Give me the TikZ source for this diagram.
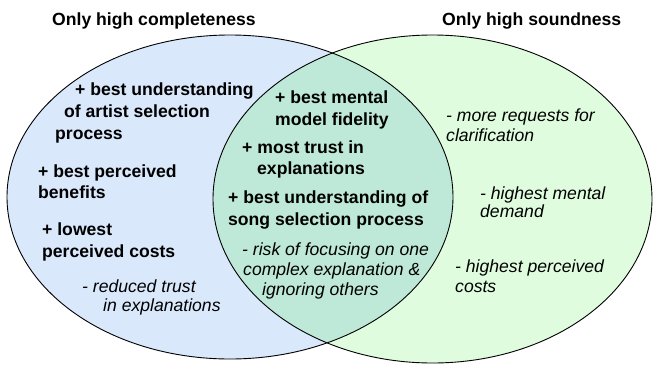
\documentclass[tikz,border=0pt]{standalone}
\usepackage{fontspec}
\setmainfont{Liberation Sans}
\usetikzlibrary{positioning}
\definecolor{complblue}{RGB}{218,232,252}
\definecolor{soundgreen}{RGB}{223,253,222}
\definecolor{bothteal}{RGB}{190,232,216}

\tikzset{
  gain/.style={anchor=base west, inner sep=0pt, font=\fontsize{17.6}{21}\selectfont\bfseries},
  loss/.style={anchor=base west, inner sep=0pt, font=\fontsize{17.6}{21}\selectfont\itshape},
  ring/.style={draw=black, line width=0.9pt}
}

\begin{document}
\begin{tikzpicture}[x=1pt, y=-1pt]
  \useasboundingbox (0,0) rectangle (653,364);
  % the two sets
  \fill[complblue] (230,197) ellipse [x radius=223pt, y radius=162pt];
  \fill[soundgreen] (432.5,199) ellipse [x radius=219.5pt, y radius=164pt];
  \begin{scope}
    \clip (230,197) ellipse [x radius=223pt, y radius=162pt];
    \fill[bothteal] (432.5,199) ellipse [x radius=219.5pt, y radius=164pt];
  \end{scope}
  \draw[ring] (230,197) ellipse [x radius=223pt, y radius=162pt];
  \draw[ring] (432.5,199) ellipse [x radius=219.5pt, y radius=164pt];

  % headings
  \node[gain] (titleC) at (52,25) {Only high completeness};
  \node[gain] (titleS) at (442,25) {Only high soundness};

  % only completeness
  \node[gain] (artist1) at (75,95) {+ best understanding};
  \node[gain] (artist2) at (64,117) {of artist selection};
  \node[gain] (artist3) at (55,139) {process};
  \node[gain] (benef1) at (38,177) {+ best perceived};
  \node[gain] (benef2) at (38,198) {benefits};
  \node[gain] (cost1) at (42,235) {+ lowest};
  \node[gain] (cost2) at (42,257) {perceived costs};
  \node[loss] (trust1) at (82,292) {- reduced trust};
  \node[loss] (trust2) at (103,311) {in explanations};

  % both
  \node[gain] (fidel1) at (275,103) {+ best mental};
  \node[gain] (fidel2) at (275,125) {model fidelity};
  \node[gain] (most1) at (242,153) {+ most trust in};
  \node[gain] (most2) at (257,174) {explanations};
  \node[gain] (song1) at (228,203) {+ best understanding of};
  \node[gain] (song2) at (228,225) {song selection process};
  \node[loss] (risk1) at (242,255) {- risk of focusing on one};
  \node[loss] (risk2) at (243,275) {complex explanation \&};
  \node[loss] (risk3) at (262,295) {ignoring others};

  % only soundness
  \node[loss] (clar1) at (446,121) {- more requests for};
  \node[loss] (clar2) at (446,141) {clarification};
  \node[loss] (demand1) at (480,199) {- highest mental};
  \node[loss] (demand2) at (480,217) {demand};
  \node[loss] (hcost1) at (455,272) {- highest perceived};
  \node[loss] (hcost2) at (455,292) {costs};
\end{tikzpicture}
\end{document}
